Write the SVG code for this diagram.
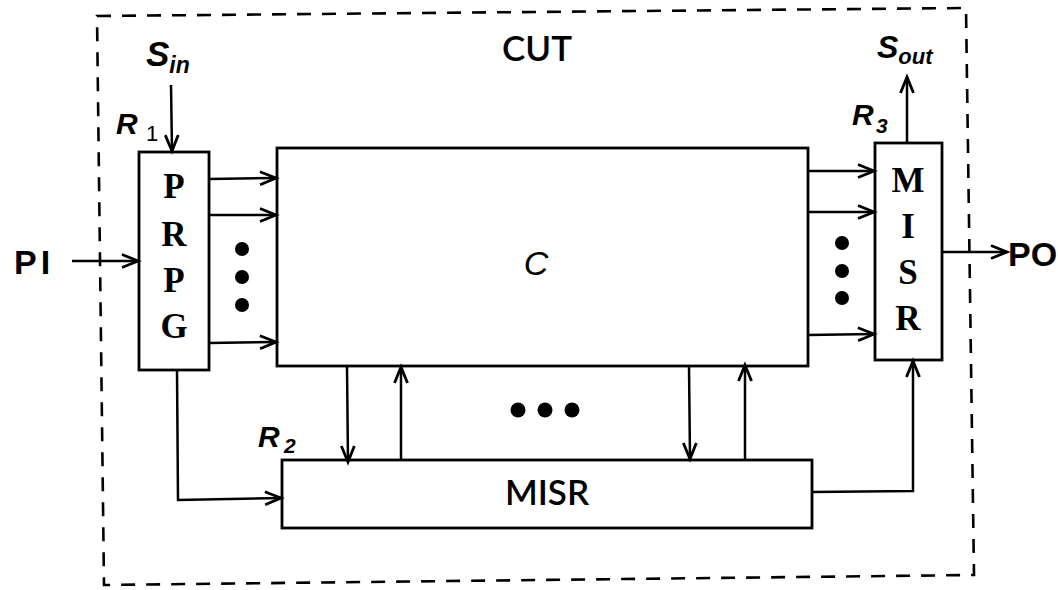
<svg xmlns="http://www.w3.org/2000/svg" width="1058" height="590" viewBox="0 0 1058 590">
<defs>
<marker id="ah" markerUnits="userSpaceOnUse" markerWidth="20" markerHeight="14" refX="17" refY="7" orient="auto" overflow="visible">
<path d="M1,0.5 L17,7 L1,13.5" fill="none" stroke="#000" stroke-width="2.8"/>
</marker>
<style>
.box{fill:#fff;stroke:#000;stroke-width:2.8}
.ar{fill:none;stroke:#000;stroke-width:2.5;marker-end:url(#ah)}
.dash{fill:none;stroke:#000;stroke-width:2.6;stroke-dasharray:14,11}
.ser{font-family:"Liberation Serif",serif;font-size:35px;text-anchor:middle;font-weight:bold}
.sans{font-family:Lato,"Liberation Sans",sans-serif;font-size:35px;text-anchor:middle;font-weight:600}
.it{font-family:"Liberation Sans",sans-serif;font-style:italic;font-weight:bold}
.hand{font-family:"Liberation Sans",sans-serif;font-size:34px;font-weight:bold}
</style>
</defs>
<rect width="1058" height="590" fill="#fff"/>
<g id="cut-boundary">
<path class="dash" d="M97,16 L966,8 L974,575 L104,585 Z"/>
<text class="sans" x="537" y="61">CUT</text>
</g>
<g id="prpg">
<rect class="box" x="139" y="152" width="70" height="218"/>
<text class="ser" x="174" y="198">P</text>
<text class="ser" x="174" y="246">R</text>
<text class="ser" x="174" y="292">P</text>
<text class="ser" x="174" y="338">G</text>
<text class="it" x="116" y="134" font-size="30">R</text>
<text x="146" y="141" font-family="Liberation Sans,sans-serif" font-size="22">1</text>
</g>
<g id="c">
<rect class="box" x="277" y="148" width="531" height="218"/>
<text x="536" y="275" font-family="Liberation Sans,sans-serif" font-style="italic" font-size="34" text-anchor="middle">C</text>
</g>
<g id="misr3">
<rect class="box" x="875" y="143" width="67" height="217"/>
<text class="ser" x="908" y="192">M</text>
<text class="ser" x="908" y="238">I</text>
<text class="ser" x="908" y="284">S</text>
<text class="ser" x="908" y="330">R</text>
<text class="it" x="852" y="125" font-size="30">R</text>
<text class="it" x="876" y="133" font-size="21">3</text>
</g>
<g id="misr2">
<rect class="box" x="282" y="460" width="530" height="68"/>
<text class="sans" x="547" y="505">MISR</text>
<text class="it" x="258" y="447" font-size="30">R</text>
<text class="it" x="284" y="453" font-size="21">2</text>
</g>
<g id="labels">
<text class="it" x="146" y="66" font-size="35">S<tspan font-size="23" dy="7">in</tspan></text>
<text class="it" x="877" y="58" font-size="32">S<tspan font-size="22" dy="6">out</tspan></text>
<text class="hand" x="14" y="274" letter-spacing="4">PI</text>
<text class="hand" x="1008" y="266">PO</text>
</g>
<g id="dots" fill="#000">
<circle cx="242" cy="249" r="7"/>
<circle cx="242" cy="277" r="7"/>
<circle cx="242" cy="305" r="7"/>
<circle cx="842" cy="243" r="7"/>
<circle cx="842" cy="271" r="7"/>
<circle cx="842" cy="298" r="7"/>
<circle cx="518" cy="410" r="7.5"/>
<circle cx="545" cy="410" r="7.5"/>
<circle cx="572" cy="410" r="7.5"/>
</g>
<g id="connectors">
<path class="ar" d="M171,85 L172,151"/>
<path class="ar" d="M72,261 L138,261"/>
<path class="ar" d="M209,179 L276,178"/>
<path class="ar" d="M209,215 L276,215"/>
<path class="ar" d="M209,343 L276,342"/>
<path class="ar" d="M808,171 L874,171"/>
<path class="ar" d="M808,212 L874,212"/>
<path class="ar" d="M808,335 L874,334"/>
<path class="ar" d="M942,252 L1007,252"/>
<path class="ar" d="M907,143 L907,77"/>
<path class="ar" d="M347,367 L348,462"/>
<path class="ar" d="M401,461 L401,367"/>
<path class="ar" d="M689,366 L690,459"/>
<path class="ar" d="M745,459 L745,365"/>
<path class="ar" d="M177,370 L178,500 L281,498"/>
<path class="ar" d="M812,492 L913,491 L913,361"/>
</g>
</svg>
